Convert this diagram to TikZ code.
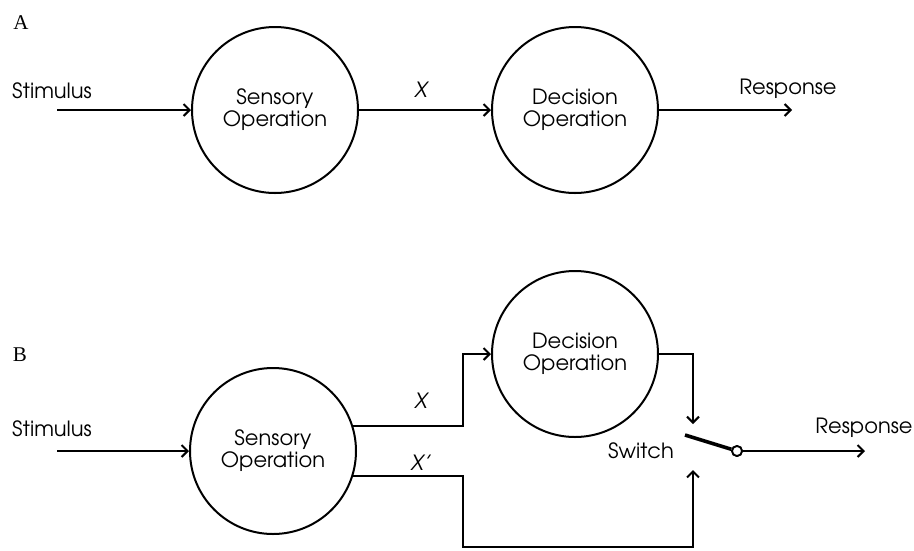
\documentclass[tikz,border=0pt]{standalone}
\usepackage{fontspec}
\setmainfont{TeX Gyre Adventor}
\newfontfamily\serifA{Liberation Serif}
\usetikzlibrary{arrows.meta}
\begin{document}
\begin{tikzpicture}[x=1pt,y=-1pt,
  op/.style={circle,draw,line width=2pt,minimum size=166pt,inner sep=0pt,align=center,font=\fontsize{21}{22}\selectfont},
  lbl/.style={font=\fontsize{21}{22}\selectfont,inner sep=0pt},
  var/.style={font=\fontsize{21}{22}\selectfont\itshape,inner sep=0pt},
  panel/.style={font=\fontsize{21}{22}\selectfont\serifA,inner sep=0pt},
  conn/.style={line width=2pt,-{Straight Barb[length=6pt,width=12pt,line width=2pt]}},
  lever/.style={line width=3.6pt},
  contact/.style={circle,draw,line width=1.8pt,fill=white,minimum size=10pt,inner sep=0pt}]
\useasboundingbox (0,0) rectangle (914,550);
% ---------- Panel A ----------
\node[panel] (labA) at (21,23) {A};
\node[op] (sA) at (275,110) {Sensory\\Operation};
\node[op] (dA) at (575,110) {Decision\\Operation};
\node[lbl] (stimA) at (52,91) {Stimulus};
\node[var] (xA) at (421,90) {X};
\node[lbl] (respA) at (788,89) {Response};
\coordinate (inA) at (57,110);
\coordinate (outA) at (792,110);
\draw[conn] (inA) -- (sA);
\draw[conn] (sA) -- (dA);
\draw[conn] (dA) -- (outA);
% ---------- Panel B ----------
\node[panel] (labB) at (20,355) {B};
\node[op] (sB) at (273,451) {Sensory\\Operation};
\node[op] (dB) at (575,354) {Decision\\Operation};
\node[lbl] (stimB) at (52,429) {Stimulus};
\node[var] (xB) at (421,401) {X};
\node[var] (xpB) at (421,463) {X’};
\node[lbl] (swl) at (641,451) {Switch};
\node[lbl] (respB) at (864,428) {Response};
\coordinate (inB) at (57,451);
\coordinate (jx) at (463,0);
\coordinate (bot) at (463,547);
\coordinate (inTop) at (693,424);
\coordinate (inBot) at (693,470);
\coordinate (lev) at (685,435);
\node[contact] (sw) at (737,451) {};
\coordinate (outB) at (865,451);
\draw[conn] (inB) -- (sB);
\draw[conn] (sB.17.5) -| (jx |- dB.west) -- (dB.west);
\draw[conn] (dB.east) -| (inTop);
\draw[conn] (sB.-17.5) -| (bot) -| (inBot);
\draw[lever] (lev) -- (sw);
\node[contact] at (sw) {};
\draw[conn] (sw) -- (outB);
\end{tikzpicture}
\end{document}
